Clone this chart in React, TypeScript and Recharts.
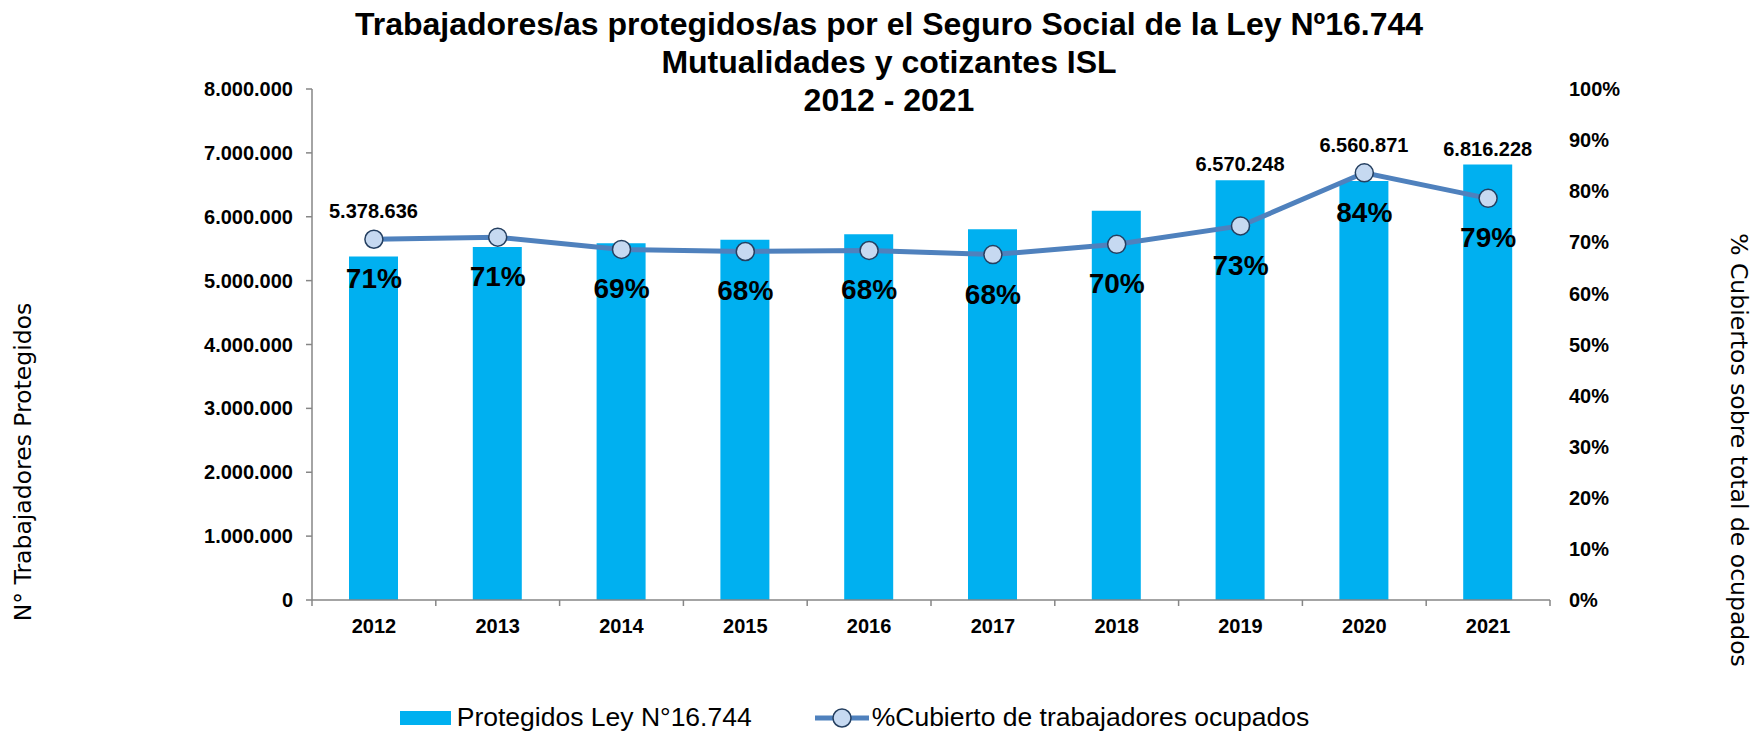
import { ComposedChart, Bar, Line, XAxis, YAxis, LabelList, Legend } from 'recharts';

const years = ['2012', '2013', '2014', '2015', '2016', '2017', '2018', '2019', '2020', '2021'];
const protegidos = [5378636, 5526000, 5584000, 5641000, 5725000, 5803000, 6095000, 6570248, 6560871, 6816228];
const pctCubierto = [70.6, 71.0, 68.6, 68.2, 68.4, 67.6, 69.6, 73.2, 83.6, 78.6];
const leftTicks = [0, 1000000, 2000000, 3000000, 4000000, 5000000, 6000000, 7000000, 8000000];
const rightTicks = [0, 10, 20, 30, 40, 50, 60, 70, 80, 90, 100];
const labeledYears = ['2012', '2019', '2020', '2021'];

const data = years.map((year, i) => ({ year, protegidos: protegidos[i], pct: pctCubierto[i] }));

const W = 1757;
const H = 732;
const LEFT_W = 312;
const RIGHT_W = 207;
const PLOT_W = W - LEFT_W - RIGHT_W;
const FONT = '"Liberation Sans", Arial, sans-serif';
const AXIS_GRAY = '#868686';
const BAR_BLUE = '#00B0F0';
const LINE_BLUE = '#4F81BD';

const fmtMiles = (v: number) => String(Math.round(v)).replace(/\B(?=(\d{3})+(?!\d))/g, '.');

function YearTick(props: any) {
  const { x, y, payload, index } = props;
  const band = (props.width || PLOT_W) / years.length;
  return (
    <g>
      <line x1={x - band / 2} y1={y} x2={x - band / 2} y2={y + 6} stroke={AXIS_GRAY} strokeWidth={1.5} />
      {index === years.length - 1 && (
        <line x1={x + band / 2} y1={y} x2={x + band / 2} y2={y + 6} stroke={AXIS_GRAY} strokeWidth={1.5} />
      )}
      <text x={x} y={y + 33} textAnchor="middle" fontFamily={FONT} fontWeight="bold" fontSize={20} fill="#000">
        {payload.value}
      </text>
    </g>
  );
}

const renderBarLabel = (props: any) => {
  const { x, y, width, height, value, index } = props;
  if (!labeledYears.includes(years[index])) return null;
  // where the line marker sits, so the label clears it
  const perUnit = height / value;
  const bottom = y + height;
  const lineY = bottom - (pctCubierto[index] / 100) * leftTicks[leftTicks.length - 1] * perUnit;
  const top = Math.min(y, lineY - 12);
  return (
    <text x={x + width / 2} y={top - 9} textAnchor="middle" fontFamily={FONT} fontWeight="bold" fontSize={20} fill="#000">
      {fmtMiles(value)}
    </text>
  );
};

const renderPctLabel = (props: any) => {
  const { x, y, value } = props;
  return (
    <text x={x} y={y + 49} textAnchor="middle" fontFamily={FONT} fontWeight="bold" fontSize={28} fill="#000">
      {Math.round(value)}%
    </text>
  );
};

function LegendBox() {
  return (
    <div style={{ display: 'flex', justifyContent: 'center', alignItems: 'center', fontFamily: FONT, fontSize: 26.5, color: '#000' }}>
      <span style={{ display: 'inline-block', width: 51, height: 14, background: BAR_BLUE, marginRight: 6 }} />
      <span>Protegidos Ley N°16.744</span>
      <svg width={56} height={24} style={{ marginLeft: 62, marginRight: 2 }}>
        <line x1={1} y1={12} x2={55} y2={12} stroke={LINE_BLUE} strokeWidth={5} />
        <circle cx={28} cy={12} r={9} fill="#C6D9F1" stroke="#243F60" strokeWidth={1.5} />
      </svg>
      <span>%Cubierto de trabajadores ocupados</span>
    </div>
  );
}

export default function App() {
  return (
    <div style={{ position: 'absolute', left: 0, top: 0, width: W, height: H, background: '#fff' }}>
      <ComposedChart width={W} height={H} data={data} margin={{ top: 89, right: 0, bottom: 92, left: 0 }}>
        <XAxis
          dataKey="year"
          height={40}
          axisLine={{ stroke: AXIS_GRAY, strokeWidth: 1.5 }}
          tickLine={false}
          tickSize={0}
          tickMargin={0}
          tick={<YearTick />}
          interval={0}
        />
        <YAxis
          yAxisId="left"
          orientation="left"
          width={LEFT_W}
          domain={[0, 8000000]}
          ticks={leftTicks}
          tickFormatter={fmtMiles}
          axisLine={{ stroke: AXIS_GRAY, strokeWidth: 1.5 }}
          tickLine={{ stroke: AXIS_GRAY, strokeWidth: 1.5 }}
          tickSize={6}
          tickMargin={13}
          tick={{ fontFamily: FONT, fontWeight: 'bold', fontSize: 20, fill: '#000' }}
        />
        <YAxis
          yAxisId="right"
          orientation="right"
          width={RIGHT_W}
          domain={[0, 100]}
          ticks={rightTicks}
          tickFormatter={(v: number) => `${v}%`}
          axisLine={false}
          tickLine={false}
          tickSize={0}
          tickMargin={19}
          tick={{ fontFamily: FONT, fontWeight: 'bold', fontSize: 20, fill: '#000' }}
        />
        <Legend
          layout="horizontal"
          verticalAlign="middle"
          align="center"
          content={<LegendBox />}
          wrapperStyle={{ top: 702, left: -24, width: W, height: 30 }}
        />
        <Bar yAxisId="left" dataKey="protegidos" name="Protegidos Ley N°16.744" fill={BAR_BLUE} barSize={49} isAnimationActive={false}>
          <LabelList dataKey="protegidos" content={renderBarLabel} />
        </Bar>
        <Line
          yAxisId="right"
          dataKey="pct"
          name="%Cubierto de trabajadores ocupados"
          stroke={LINE_BLUE}
          strokeWidth={5}
          dot={{ r: 9, fill: '#C6D9F1', stroke: '#243F60', strokeWidth: 1.5 }}
          activeDot={false}
          isAnimationActive={false}
        >
          <LabelList dataKey="pct" content={renderPctLabel} />
        </Line>
      </ComposedChart>

      <div
        style={{
          position: 'absolute',
          left: 889,
          top: 5,
          transform: 'translateX(-50%)',
          whiteSpace: 'nowrap',
          textAlign: 'center',
          fontFamily: FONT,
          fontWeight: 'bold',
          fontSize: 32,
          lineHeight: '38px',
          color: '#000',
        }}
      >
        Trabajadores/as protegidos/as por el Seguro Social de la Ley Nº16.744
        <br />
        Mutualidades y cotizantes ISL
        <br />
        2012 - 2021
      </div>

      <div
        style={{
          position: 'absolute',
          left: 23,
          top: 462,
          transform: 'translate(-50%, -50%) rotate(-90deg)',
          whiteSpace: 'nowrap',
          fontFamily: '"DejaVu Sans", sans-serif',
          fontSize: 23.5,
          color: '#000',
        }}
      >
        N° Trabajadores Protegidos
      </div>

      <div
        style={{
          position: 'absolute',
          left: 1739,
          top: 450,
          transform: 'translate(-50%, -50%) rotate(90deg)',
          whiteSpace: 'nowrap',
          fontFamily: '"DejaVu Sans", sans-serif',
          fontSize: 23.5,
          color: '#000',
        }}
      >
        % Cubiertos sobre total de ocupados
      </div>
    </div>
  );
}
